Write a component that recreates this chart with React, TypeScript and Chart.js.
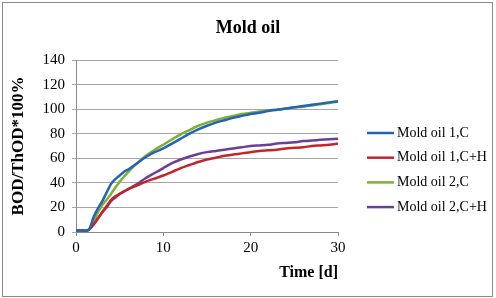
import React, { useEffect, useRef } from "react";
import { Chart, registerables } from "chart.js";

Chart.register(...registerables);

const days = [0, 0.5, 1, 1.5, 2, 2.5, 3, 3.5, 4, 4.5, 5, 5.5, 6, 7, 8, 9, 10, 11, 12, 13, 14, 15, 16, 17, 18, 19, 20, 21, 22, 23, 24, 25, 26, 27, 28, 29, 30];
const mold1C = [1, 1.5, 1, 2, 12, 19, 25, 32, 39, 43, 46, 49, 51, 56, 61, 65, 68, 72, 76, 80, 83.5, 86.5, 89, 91, 93, 94.5, 96, 97, 98.5, 99.5, 100.5, 101.5, 102.5, 103.5, 104.5, 105.5, 106.5];
const mold1CH = [1, 1.5, 1, 2, 6, 11, 16, 21, 26, 29, 31, 33, 35, 38, 41, 43.5, 46, 49, 52, 54.5, 57, 59, 60.5, 62, 63, 64, 65, 66, 66.5, 67, 68, 68.5, 69, 70, 70.5, 71, 72];
const mold2C = [1, 1.5, 1, 2, 8, 16, 22, 26, 31, 36, 41, 45, 49, 56, 62, 67, 71, 75.5, 79.5, 83, 86.5, 89, 91, 93, 94.5, 96, 97, 98, 99, 99.5, 100.5, 101.5, 102, 103, 104, 105, 106];
const mold2CH = [1, 1.5, 1, 2, 6, 11, 16, 20, 25, 28, 31, 33, 35, 39, 44, 48, 52, 56, 59, 61.5, 63.5, 65, 66, 67, 68, 69, 70, 70.5, 71, 72, 72.5, 73, 74, 74.5, 75, 75.5, 76];

const seriesNames = ["Mold oil 1,C", "Mold oil 1,C+H", "Mold oil 2,C", "Mold oil 2,C+H"];
const seriesColors = ["#2464b8", "#c0262b", "#80b030", "#6a3f98"];
const seriesValues = [mold1C, mold1CH, mold2C, mold2CH];

const FONT = "'Liberation Serif', 'Times New Roman', serif";

const legendAndFrame = {
  id: "legendAndFrame",
  afterDraw(chart: any) {
    const ctx = chart.ctx;
    ctx.save();
    ctx.strokeStyle = "#8a8a8a";
    ctx.lineWidth = 1;
    ctx.strokeRect(2.5, 2.5, 490, 294);
    const x0 = 367;
    const y0 = 133;
    const step = 24.7;
    ctx.font = `14px ${FONT}`;
    ctx.textBaseline = "middle";
    ctx.fillStyle = "#000";
    chart.data.datasets.forEach((ds: any, i: number) => {
      const y = y0 + i * step;
      ctx.strokeStyle = ds.borderColor;
      ctx.lineWidth = 2.5;
      ctx.beginPath();
      ctx.moveTo(x0, y);
      ctx.lineTo(x0 + 27, y);
      ctx.stroke();
      ctx.fillText(ds.label, x0 + 30, y);
    });
    ctx.restore();
  },
};

export default function App() {
  const ref = useRef<HTMLCanvasElement | null>(null);
  useEffect(() => {
    document.body.style.margin = "0";
    const canvas = ref.current!;
    const chart = new Chart(canvas, {
      type: "line",
      data: {
        labels: days,
        datasets: seriesNames.map((name, i) => ({
          label: name,
          data: days.map((d, j) => ({ x: d, y: seriesValues[i][j] })),
          borderColor: seriesColors[i],
          backgroundColor: seriesColors[i],
          borderWidth: 2.5,
          pointRadius: 0,
          tension: 0.25,
        })),
      },
      options: {
        responsive: false,
        animation: false,
        devicePixelRatio: 1,
        layout: { padding: 0 },
        plugins: {
          legend: { display: false },
          tooltip: { enabled: false },
          title: {
            display: true,
            text: "Mold oil",
            color: "#000",
            font: { family: FONT, size: 18, weight: "bold" },
            padding: { top: 18, bottom: 20.4 },
          },
        },
        scales: {
          x: {
            type: "linear",
            min: 0,
            max: 30,
            ticks: { stepSize: 10, color: "#000", font: { family: FONT, size: 15 }, padding: 3, maxRotation: 0 },
            grid: { drawOnChartArea: false, drawTicks: true, tickLength: 4, color: "#8a8a8a" },
            border: { color: "#8a8a8a" },
            title: {
              display: true,
              text: "Time [d]",
              align: "end",
              color: "#000",
              font: { family: FONT, size: 16, weight: "bold" },
              padding: { top: 0, bottom: 16 },
            },
            afterFit: (s: any) => { s.height = 66; },
          },
          y: {
            min: 0,
            max: 140,
            ticks: { stepSize: 20, color: "#000", font: { family: FONT, size: 15 }, padding: 7 },
            grid: { color: "#a6a6a6", tickLength: 4 },
            border: { color: "#8a8a8a" },
            title: {
              display: true,
              text: "BOD/ThOD*100%",
              color: "#000",
              font: { family: FONT, size: 17, weight: "bold" },
              padding: { top: 8, bottom: 0 },
            },
            afterFit: (s: any) => { s.width = 76; },
          },
          space: {
            type: "linear",
            position: "right",
            display: true,
            ticks: { display: false },
            grid: { display: false },
            border: { display: false },
            afterFit: (s: any) => { s.width = 158; },
          },
        },
      },
      plugins: [legendAndFrame],
    } as any);
    return () => chart.destroy();
  }, []);
  return (
    <div style={{ width: 496, height: 298, background: "#fff" }}>
      <canvas ref={ref} width={496} height={298} style={{ display: "block" }} />
    </div>
  );
}
